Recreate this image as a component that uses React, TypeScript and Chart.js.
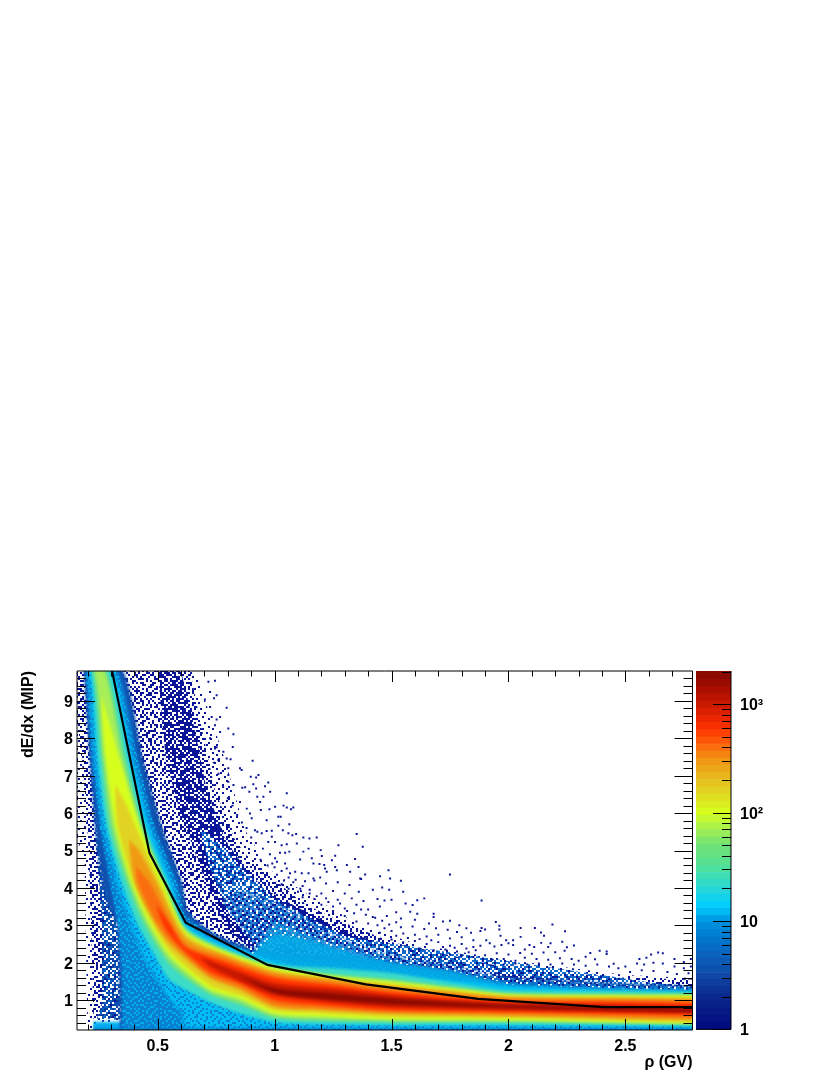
import React, { useEffect, useRef } from "react";
import { Chart, registerables } from "chart.js";
Chart.register(...registerables);

type P = [number, number];
const FONT = '"Liberation Sans", Arial, sans-serif';
const X0 = 0.155, X1 = 2.787, Y0 = 0.2, Y1 = 9.8;

const xMajor = [0.5, 1, 1.5, 2, 2.5];
const xMinor = [0.2, 0.3, 0.4, 0.6, 0.7, 0.8, 0.9, 1.1, 1.2, 1.3, 1.4, 1.6, 1.7, 1.8, 1.9, 2.1, 2.2, 2.3, 2.4, 2.6, 2.7];
const yMajor = [1, 2, 3, 4, 5, 6, 7, 8, 9];
const yMinor = [0.4, 0.6, 0.8, 1.2, 1.4, 1.6, 1.8, 2.2, 2.4, 2.6, 2.8, 3.2, 3.4, 3.6, 3.8, 4.2, 4.4, 4.6, 4.8, 5.2, 5.4, 5.6, 5.8, 6.2, 6.4, 6.6, 6.8, 7.2, 7.4, 7.6, 7.8, 8.2, 8.4, 8.6, 8.8, 9.2, 9.4, 9.6];

const zMajor = [1, 10, 100, 1000];
const zLabels: Record<number, string> = { 1: "1", 10: "10", 100: "10\u00B2", 1000: "10\u00B3" };
const zMinor = [2, 3, 4, 5, 6, 7, 8, 9, 20, 30, 40, 50, 60, 70, 80, 90, 200, 300, 400, 500, 600, 700, 800, 900, 2000];
const zEdges = [1, 1.16, 1.35, 1.57, 1.83, 2.13, 2.48, 2.88, 3.35, 3.9, 4.54, 5.28, 6.15, 7.16, 8.33, 9.7, 11.3, 13.1, 15.3, 17.8, 20.7, 24.1, 28, 32.6, 38, 44.2, 51.4, 59.9, 69.7, 81.1, 94.4, 110, 128, 149, 173, 202, 235, 273, 318, 370, 431, 501, 583, 679, 790, 919, 1070, 1245, 1449, 1687, 2024];
const zStopValues = [1, 2, 3, 5, 7, 10, 13.5, 20, 30, 40, 50, 70, 100, 150, 200, 300, 400, 500, 600, 700, 1000, 1350, 1800, 2024];
const zStopColors: number[][] = [[0, 10, 125], [10, 40, 140], [15, 70, 165], [10, 100, 190], [0, 120, 205], [0, 150, 225], [0, 205, 255], [40, 215, 215], [75, 225, 160], [100, 225, 130], [110, 225, 120], [165, 240, 80], [215, 255, 30], [225, 215, 35], [230, 190, 30], [240, 150, 20], [250, 110, 15], [255, 75, 5], [255, 50, 0], [240, 40, 0], [200, 25, 0], [170, 15, 0], [140, 10, 0], [130, 8, 0]];

// contour edges of the main band, outermost level first
const blueUpper: P[] = [[0.155, 11], [0.352, 9.8], [0.437, 7.42], [0.518, 5.63], [0.604, 4.13], [0.625, 3.4], [0.7, 2.95], [0.8, 2.6], [1, 2.25], [1.25, 2.17], [1.5, 2.01], [1.75, 1.8], [2, 1.59], [2.5, 1.43], [2.787, 1.35]];
const blueLower: P[] = [[0.155, 11], [0.185, 9.8], [0.21, 7.42], [0.232, 5.63], [0.262, 4.13], [0.29, 3.5], [0.33, 3], [0.34, 0.1], [2.787, 0.1]];
const lowLeftLower: P[] = [[0.155, 11], [0.185, 9.8], [0.21, 7.42], [0.232, 5.63], [0.25, 4.13], [0.262, 3], [0.265, 1], [0.24, 0.5], [2.787, 0.1]];
const azureUpper: P[] = [[0.155, 11], [0.33, 9.8], [0.416, 7.42], [0.488, 5.63], [0.583, 4.13], [0.617, 3.27], [0.7, 2.85], [0.8, 2.5], [1, 2.17], [1.25, 2.07], [1.5, 1.94], [1.75, 1.72], [2, 1.51], [2.5, 1.37], [2.787, 1.32]];
const azureLower: P[] = [[0.155, 11], [0.193, 9.8], [0.219, 7.42], [0.253, 5.63], [0.296, 4.13], [0.33, 3], [0.347, 1.8], [0.348, 0.1], [2.787, 0.1]];
const skyUpper: P[] = [[0.155, 11], [0.309, 9.8], [0.394, 7.42], [0.467, 5.63], [0.561, 4.13], [0.617, 3.08], [0.788, 2.5], [1, 2.12], [1.25, 2], [1.5, 1.86], [1.75, 1.67], [2, 1.4], [2.5, 1.32], [2.787, 1.27]];
const skyLower: P[] = [[0.155, 11], [0.202, 9.8], [0.232, 7.42], [0.266, 5.63], [0.326, 4.13], [0.382, 3], [0.446, 2.07], [0.553, 1], [0.6, 0.7], [0.62, 0.1], [2.787, 0.1]];
const tealUpper: P[] = [[0.155, 11], [0.296, 9.8], [0.377, 7.42], [0.45, 5.63], [0.544, 4.13], [0.617, 2.98], [0.788, 2.39], [1, 1.96], [1.25, 1.85], [1.5, 1.72], [1.75, 1.48], [2, 1.27], [2.5, 1.24], [2.787, 1.21]];
const tealLower: P[] = [[0.155, 11], [0.215, 9.8], [0.245, 7.42], [0.283, 5.63], [0.347, 4.13], [0.416, 3], [0.5, 2.07], [0.553, 1.53], [0.724, 0.95], [0.852, 0.65], [1, 0.41], [1.2, 0.36], [1.5, 0.33], [2, 0.33], [2.787, 0.3]];
const greenUpper: P[] = [[0.155, 11], [0.28, 9.8], [0.364, 7.42], [0.437, 5.63], [0.535, 4.13], [0.617, 2.92], [0.788, 2.34], [1, 1.91], [1.25, 1.69], [1.5, 1.56], [1.75, 1.37], [2, 1.19], [2.5, 1.16], [2.787, 1.16]];
const greenLower: P[] = [[0.155, 11], [0.223, 9.8], [0.262, 7.42], [0.296, 5.63], [0.369, 4.13], [0.433, 3.14], [0.553, 1.93], [0.724, 1.15], [0.852, 0.87], [1, 0.52], [1.2, 0.44], [1.5, 0.41], [2, 0.41], [2.787, 0.36]];
const springUpper: P[] = [[0.155, 11], [0.272, 9.8], [0.35, 7.42], [0.43, 5.63], [0.529, 4.13], [0.617, 2.88], [0.788, 2.31], [1, 1.88], [1.25, 1.66], [1.5, 1.52], [1.75, 1.33], [2, 1.16], [2.5, 1.13], [2.787, 1.13]];
const springLower: P[] = [[0.155, 11], [0.232, 9.8], [0.27, 7.42], [0.309, 5.63], [0.38, 4.13], [0.446, 3.14], [0.553, 2.07], [0.724, 1.22], [0.852, 0.96], [1, 0.58], [1.2, 0.5], [1.5, 0.45], [2, 0.44], [2.787, 0.37]];
const limeUpper: P[] = [[0.257, 9.2], [0.339, 7.42], [0.424, 5.63], [0.523, 4.13], [0.617, 2.84], [0.788, 2.28], [1, 1.86], [1.25, 1.62], [1.5, 1.48], [1.75, 1.3], [2, 1.13], [2.5, 1.11], [2.787, 1.11]];
const limeLower: P[] = [[0.257, 9.2], [0.279, 7.42], [0.322, 5.63], [0.39, 4.13], [0.459, 3.14], [0.553, 2.2], [0.724, 1.3], [0.852, 1.05], [1, 0.65], [1.2, 0.57], [1.5, 0.49], [2, 0.47], [2.787, 0.39]];
const yellowUpper: P[] = [[0.315, 6.8], [0.36, 6.3], [0.407, 5.63], [0.51, 4.13], [0.617, 2.79], [0.788, 2.24], [1, 1.8], [1.25, 1.58], [1.5, 1.43], [1.75, 1.27], [2, 1.11], [2.5, 1.08], [2.787, 1.08]];
const yellowLower: P[] = [[0.315, 6.8], [0.33, 5.63], [0.399, 4.13], [0.471, 3.14], [0.553, 2.3], [0.724, 1.4], [0.852, 1.13], [1, 0.73], [1.2, 0.65], [1.5, 0.55], [2, 0.52], [2.787, 0.41]];
const amberUpper: P[] = [[0.375, 5.3], [0.42, 5], [0.497, 4.13], [0.617, 2.68], [0.788, 2.2], [1, 1.75], [1.25, 1.55], [1.5, 1.37], [1.75, 1.22], [2, 1.08], [2.5, 1.05], [2.787, 1.03]];
const amberLower: P[] = [[0.375, 5.3], [0.403, 4.13], [0.48, 3.14], [0.553, 2.47], [0.724, 1.59], [0.852, 1.27], [1, 0.81], [1.2, 0.73], [1.5, 0.63], [2, 0.57], [2.787, 0.47]];
const orangeUpper: P[] = [[0.405, 4.6], [0.467, 4.13], [0.617, 2.52], [0.788, 2.12], [1, 1.67], [1.25, 1.48], [1.5, 1.29], [1.75, 1.15], [2, 1.03], [2.5, 1], [2.787, 0.97]];
const orangeLower: P[] = [[0.405, 4.6], [0.416, 4.13], [0.49, 3.14], [0.553, 2.6], [0.724, 1.65], [0.852, 1.35], [1, 0.89], [1.2, 0.79], [1.5, 0.68], [2, 0.63], [2.787, 0.52]];
const redUpper: P[] = [[0.49, 3.6], [0.55, 3.05], [0.617, 2.42], [0.788, 2.02], [1, 1.59], [1.25, 1.4], [1.5, 1.21], [1.75, 1.08], [2, 0.97], [2.5, 0.95], [2.787, 0.92]];
const redLower: P[] = [[0.49, 3.6], [0.53, 2.95], [0.6, 2.4], [0.724, 1.75], [0.852, 1.45], [1, 1], [1.2, 0.87], [1.5, 0.73], [2, 0.68], [2.787, 0.6]];
const crimsonUpper: P[] = [[0.68, 2.15], [0.788, 1.9], [1, 1.45], [1.25, 1.3], [1.5, 1.13], [1.75, 1], [2, 0.92], [2.5, 0.87], [2.787, 0.84]];
const crimsonLower: P[] = [[0.68, 2.15], [0.724, 1.9], [0.852, 1.5], [1, 1.13], [1.2, 0.97], [1.5, 0.81], [2, 0.73], [2.787, 0.65]];
const maroonUpper: P[] = [[0.85, 1.66], [1, 1.32], [1.25, 1.18], [1.5, 1.05], [1.75, 0.95], [2, 0.87], [2.5, 0.79], [2.787, 0.76]];
const maroonLower: P[] = [[0.85, 1.66], [1, 1.19], [1.2, 1.03], [1.5, 0.89], [2, 0.79], [2.787, 0.68]];

// strip along the lower edge of the plot
const stripTop: P[] = [[0.222, 0.42], [2.787, 0.42]];
const stripBottom: P[] = [[0.222, 0.1], [2.787, 0.1]];
const rimTop: P[] = [[0.222, 0.26], [2.787, 0.26]];

// speckled and mid-density regions above and left of the main band
const sparseUpper: P[] = [[0.155, 11], [0.66, 9.8], [0.788, 7.42], [0.873, 5.55], [0.98, 4.48], [1.15, 3.8], [1.365, 3], [1.62, 2.47], [2, 2.07], [2.5, 1.67], [2.787, 1.59]];
const sparseLower: P[] = [[0.155, 5.3], [0.187, 4.8], [0.2, 0.1], [2.787, 0.1]];
const mediumUpper: P[] = [[0.155, 11], [0.639, 9.8], [0.681, 8.49], [0.745, 6.62], [0.831, 5.28], [0.895, 4.74], [1, 4.21], [1.12, 3.6], [1.267, 3.15], [1.5, 2.55], [1.75, 2.2], [2, 1.85], [2.5, 1.6], [2.787, 1.55]];
const leftLower: P[] = [[0.155, 8.6], [0.19, 6.5], [0.205, 5], [0.215, 3], [0.225, 0.5], [2.787, 0.2]];
const protonUpper: P[] = [[0.155, 11], [0.6, 9.8], [0.65, 8.49], [0.71, 6.62], [0.79, 5.28], [0.85, 4.74], [0.95, 4], [1.12, 3.4], [1.267, 2.95], [1.5, 2.38], [1.75, 2.05], [2, 1.72], [2.5, 1.45], [2.787, 1.4]];
const protonLower: P[] = [[0.155, 11], [0.5, 9.8], [0.535, 7.42], [0.595, 6.05], [0.702, 4.21], [0.788, 3], [0.938, 2.07], [1.109, 1.67], [2.787, 1]];
const coreUpper: P[] = [[0.62, 7], [0.72, 6.3], [0.8, 5.35], [0.88, 4.6], [1, 3.9], [1.12, 3.3], [1.267, 2.85], [1.5, 2.3], [1.75, 2], [2, 1.68], [2.5, 1.42], [2.787, 1.38]];
const coreLower: P[] = [[0.62, 7], [0.66, 5.63], [0.73, 4.21], [0.8, 3.2], [0.94, 2.2], [1.11, 1.8], [2.787, 1.1]];
const mottleUpper: P[] = [[0.68, 5.6], [0.78, 5.1], [0.88, 4.4], [1, 3.7], [1.3, 2.7], [2.787, 1.3]];
const mottleLower: P[] = [[0.68, 5.6], [0.72, 4.6], [0.8, 3.4], [0.92, 2.5], [2.787, 1.1]];
const midUpper: P[] = [[0.78, 3.6], [0.85, 3.9], [1, 3.6], [1.25, 2.75], [1.5, 2.2], [1.75, 1.93], [2, 1.6], [2.5, 1.4], [2.787, 1.35]];
const midLower: P[] = [[0.78, 3.6], [0.94, 2.2], [1.11, 1.85], [2.787, 1.1]];
const paleUpper: P[] = [[0.9, 2.2], [1, 2.75], [1.15, 2.6], [1.25, 2.4], [1.5, 2], [1.75, 1.78], [2, 1.42], [2.5, 1.3], [2.787, 1.27]];
const paleLower: P[] = [[0.9, 2.2], [1, 2], [1.11, 1.8], [2.787, 1.1]];
const fleckLower: P[] = [[0.78, 3.6], [0.9, 2.2], [1, 2.75], [1.15, 2.6], [1.25, 2.4], [1.5, 2], [1.75, 1.78], [2, 1.42], [2.5, 1.3], [2.787, 1.27]];
const paleFleckUpper: P[] = [[0.9, 2.2], [1, 3.1], [1.25, 2.5], [1.5, 2.05], [1.75, 1.8], [2, 1.45], [2.5, 1.3], [2.787, 1.27]];

// isolated single-count bins
const dotsUpperLeft: P[] = [[0.717, 9.51], [0.745, 9.54], [0.724, 9.24], [0.752, 9.15], [0.741, 9.07], [0.702, 9.04], [0.724, 8.84], [0.795, 8.82], [0.767, 8.57], [0.752, 8.5], [0.731, 8.57], [0.745, 8.35], [0.802, 8.26], [0.824, 8.11], [0.767, 8.17], [0.724, 8], [0.752, 7.76], [0.821, 7.77], [0.781, 7.64], [0.745, 7.73], [0.795, 7.46], [0.812, 7.44], [0.906, 7.4], [0.759, 7.42], [0.852, 7.2], [0.859, 7.15], [0.802, 7.2], [0.802, 7.02], [0.898, 6.97], [0.931, 7.02], [0.921, 6.95], [0.802, 6.84], [0.973, 6.82], [0.909, 6.77], [0.959, 6.72], [0.824, 6.75], [0.862, 6.68], [0.874, 6.69], [0.921, 6.66], [0.981, 6.57], [1.052, 6.53], [0.892, 6.57], [0.926, 6.44], [0.952, 6.44], [0.938, 6.3], [1.002, 6.17], [1.038, 6.2], [1.052, 6.15], [1.08, 6.15], [1.07, 6.1], [0.978, 6.1], [0.941, 6.08], [1.016, 5.9], [1.026, 5.9], [0.966, 5.81], [1.016, 5.66], [1.063, 5.7], [0.902, 5.86], [0.881, 6.12], [0.895, 5.99], [0.852, 6.3]];
const dotsMiddle: P[] = [[0.916, 5.54], [0.926, 5.5], [0.945, 5.46], [0.966, 5.52], [0.988, 5.53], [1.035, 5.54], [1.059, 5.46], [1.076, 5.41], [1.092, 5.44], [1.123, 5.35], [1.149, 5.32], [1.18, 5.35], [1.351, 5.44], [1.273, 5.14], [1.377, 5.1], [1.095, 5.19], [1.052, 5.17], [1.03, 5.14], [1.002, 5.23], [0.988, 5.37], [0.973, 5.23], [1.145, 5.05], [1.123, 4.97], [1.063, 4.97], [1.045, 4.94], [1.023, 4.94], [1.159, 4.79], [1.109, 4.76], [1.197, 5.01], [1.202, 4.85], [1.259, 4.86], [1.245, 4.74], [1.344, 4.77], [1.166, 4.65], [1.192, 4.64], [1.212, 4.61], [1.116, 4.39], [1.088, 4.43], [1.045, 4.65], [1.052, 4.52], [1.066, 4.39], [1.002, 4.79], [1.216, 4.52], [1.259, 4.56], [1.266, 4.47], [1.309, 4.61], [1.359, 4.56], [1.323, 4.43], [1.223, 4.43], [1.387, 4.36], [1.487, 4.47], [1.451, 4.31], [1.494, 4.25], [1.366, 4.25], [1.195, 4.28], [1.166, 4.25], [1.145, 4.39], [1.75, 4.36], [1.54, 4.19], [1.46, 4.01]];
const dotsCentre: P[] = [[1.03, 4.1], [1.08, 4.15], [1.12, 4.05], [1.17, 4.2], [1.22, 4.12], [1.27, 4.15], [1.32, 4.08], [1.37, 4.24], [1.06, 3.98], [1.1, 3.9], [1.15, 3.95], [1.2, 3.85], [1.25, 3.92], [1.3, 3.85], [1.36, 3.9], [1.42, 3.95], [1.49, 3.95], [1.55, 3.9], [1.12, 3.75], [1.17, 3.7], [1.22, 3.72], [1.27, 3.68], [1.33, 3.72], [1.38, 3.65], [1.44, 3.7], [1.47, 3.66], [1.5, 3.68], [1.56, 3.58], [1.59, 3.54], [1.61, 3.67], [1.64, 3.72], [1.2, 3.55], [1.25, 3.5], [1.3, 3.45], [1.35, 3.55], [1.4, 3.42], [1.45, 3.5], [1.52, 3.35], [1.58, 3.36], [1.61, 3.31], [1.68, 3.31], [1.68, 3.22], [1.25, 3.3], [1.3, 3.25], [1.34, 3.32], [1.39, 3.28], [1.43, 3.2], [1.48, 3.25], [1.54, 3.18], [1.6, 3.15], [1.66, 3.05], [1.72, 3.1], [1.75, 3.12], [1.79, 3], [1.35, 3.1], [1.4, 3.05], [1.44, 3], [1.49, 3.02], [1.54, 2.95], [1.59, 2.97], [1.64, 2.9], [1.69, 2.92], [1.74, 2.88], [1.78, 2.82], [1.82, 2.92], [1.84, 2.8], [1.88, 2.85], [1.45, 2.8], [1.5, 2.85], [1.55, 2.78], [1.6, 2.75], [1.65, 2.7], [1.7, 2.75], [1.75, 2.65], [1.8, 2.68], [1.85, 2.6], [1.5, 2.62], [1.55, 2.55], [1.6, 2.58], [1.65, 2.5], [1.7, 2.55], [1.75, 2.45], [1.8, 2.5], [1.85, 2.42], [1.88, 2.45], [1.62, 2.38], [1.68, 2.33], [1.73, 2.35], [1.78, 2.3], [1.83, 2.28], [1.86, 2.33], [1.75, 2.22], [1.8, 2.18], [1.85, 2.15]];
const dotsDense: P[] = [[1.0, 4.55], [1.03, 4.45], [1.01, 4.35], [1.06, 4.28], [1.09, 4.22], [1.13, 4.18], [1.04, 4.2], [1.07, 4.08], [1.11, 3.98], [1.15, 3.85], [1.18, 3.78], [1.23, 3.62], [1.28, 3.58], [1.31, 3.38], [1.37, 3.42], [1.42, 3.22], [1.46, 3.12], [1.52, 3.08], [1.47, 2.92], [1.52, 2.72], [1.57, 2.66], [1.62, 2.63], [1.67, 2.6], [1.72, 2.42], [1.77, 2.4], [1.82, 2.38], [0.92, 5.2], [0.95, 5.05], [0.98, 4.9], [0.9, 5.35], [0.88, 5.6], [0.86, 5.75], [0.84, 5.95], [0.82, 6.2], [0.8, 6.4], [0.78, 6.7], [0.76, 7.05], [0.74, 7.35], [0.94, 4.75], [0.97, 4.6], [0.99, 4.65], [1.01, 4.7]];
const dotsRight: P[] = [[1.885, 3.66], [1.946, 3.09], [1.961, 2.99], [1.961, 2.89], [1.9, 2.89], [1.885, 2.93], [2.052, 2.93], [2.113, 2.93], [2.188, 3.02], [2.139, 2.81], [2.152, 2.72], [2.242, 2.84], [1.966, 2.72], [2.052, 2.69], [1.99, 2.6], [2.02, 2.6], [2, 2.52], [2.02, 2.47], [1.905, 2.6], [1.92, 2.52], [1.94, 2.43], [1.97, 2.47], [2.09, 2.47], [2.11, 2.42], [2.07, 2.35], [2.14, 2.53], [2.18, 2.52], [2.17, 2.42], [2.23, 2.56], [2.25, 2.41], [2.28, 2.46], [2.24, 2.32], [2.2, 2.28], [2.15, 2.27], [2.1, 2.24], [2.05, 2.26], [2, 2.22], [1.95, 2.25], [1.9, 2.2], [2.35, 2.26], [2.39, 2.32], [2.42, 2.3], [2.42, 2.23], [2.33, 2.16], [2.37, 2.09], [2.3, 2.05], [2.27, 2.1], [2.22, 2.12], [2.17, 2.08], [2.12, 2.1], [2.07, 2.13], [2.03, 2.05], [1.98, 2.1], [1.93, 2.08], [1.89, 2.05], [2.56, 2.1], [2.59, 2.13], [2.61, 2.22], [2.64, 2.27], [2.66, 2.25], [2.55, 1.98], [2.58, 1.95], [2.62, 2], [2.66, 1.98], [2.71, 2.1], [2.75, 2.02], [2.78, 2.1], [2.71, 1.9], [2.75, 1.85], [2.78, 1.9], [2.45, 1.97], [2.5, 1.9], [2.47, 1.85], [2.43, 1.9], [2.38, 1.95], [2.33, 1.92], [2.28, 1.95], [2.23, 1.98], [2.18, 1.95], [2.13, 1.98], [2.08, 1.95], [2.03, 1.98], [1.98, 1.95], [2.52, 1.75], [2.57, 1.8], [2.62, 1.78], [2.68, 1.75], [2.72, 1.7], [2.77, 1.72]];

// the black curve
const curveX = [0.305, 0.465, 0.62, 0.97, 1.39, 1.87, 2.41, 2.787];
const curveY = [9.8, 4.93, 3.07, 1.94, 1.42, 1.03, 0.81, 0.81];

// fixed hand-written stipple tiles for the fill style of the speckled regions
const tileDense = ["10110010110100110", "01001101001011001", "11010010110010110", "00101100101101001", "10010111010010011", "01101000101100101", "11000110010011010", "00110101101001100", "10101001010110011", "01010110100101101", "10011001011010010", "01100110100101001", "11010001001011110", "00101110110100101", "10100101001001011", "01011010010110100", "10010011101000110"];
const tileMedium = ["10001001000101000110010", "00100010010000100001001", "01000110000101001000100", "10010000100100010010000", "00001010001000100100011", "01100001000010000101000", "10000100101000010000101", "00101000010010100010000", "01000010100000001001010", "00010100001011000100001", "10100001000000100010100", "00001001010010010000010", "01010010000100001010001", "00100000110001000001100", "10001100000100100100000", "00010001001000010010011", "01000100000011000000100", "10100000110000101001000", "00001010000101000100010", "01100000100010010000101", "00010011000000100110000", "10000100010100000001010", "00101000100001011000001"];
const tileSparse = ["1000000100000010000", "0000100000001000001", "0010000001000000100", "0000001000010000000", "0100000000000100010", "0000010010000000100", "1000000000100001000", "0001000000000100000", "0000000100100000010", "0100100000000010000", "0000000001000000001", "0010000010000100000", "0000010000001000100", "1000000000100000000", "0000100100000010001", "0100000000010000000", "0000001000000100100", "0001000001000000000", "1000000000010010000"];

function colorAt(v: number): string {
  let i = 0;
  while (i < zStopValues.length - 2 && v > zStopValues[i + 1]) i++;
  const a = Math.log(zStopValues[i]), b = Math.log(zStopValues[i + 1]);
  const t = Math.min(1, Math.max(0, (Math.log(v) - a) / (b - a)));
  const c = zStopColors[i].map((s, k) => Math.round(s + (zStopColors[i + 1][k] - s) * t));
  return `rgb(${c[0]},${c[1]},${c[2]})`;
}

function makePattern(rows: string[], color: string, cell = 2): CanvasPattern {
  const c = document.createElement("canvas");
  c.width = rows[0].length * cell;
  c.height = rows.length * cell;
  const g = c.getContext("2d")!;
  g.fillStyle = color;
  rows.forEach((r, j) => [...r].forEach((v, i) => { if (v === "1") g.fillRect(i * cell, j * cell, cell, cell); }));
  return g.createPattern(c, "repeat")!;
}

const xy = (p: P[]) => p.map(([x, y]) => ({ x, y }));

function band(upper: P[], lower: P[], fillStyle: any, blur = false, tensionUp = 0, tensionLow = 0): any[] {
  const base = { showLine: true, borderWidth: 0, pointRadius: 0, blur };
  return [
    { ...base, data: xy(upper), fill: "+1", backgroundColor: fillStyle, tension: tensionUp },
    { ...base, data: xy(lower), fill: false, tension: tensionLow },
  ];
}

function tickFrame(chart: any) {
  const { ctx, chartArea: a, scales } = chart;
  const x = scales.x, y = scales.y;
  ctx.save();
  ctx.strokeStyle = "#000";
  ctx.lineWidth = 1;
  ctx.beginPath();
  const hTick = (v: number, len: number) => {
    const p = Math.round(x.getPixelForValue(v)) + 0.5;
    ctx.moveTo(p, a.top); ctx.lineTo(p, a.top + len);
    ctx.moveTo(p, a.bottom); ctx.lineTo(p, a.bottom - len);
  };
  const vTick = (v: number, len: number) => {
    const p = Math.round(y.getPixelForValue(v)) + 0.5;
    ctx.moveTo(a.left, p); ctx.lineTo(a.left + len, p);
    ctx.moveTo(a.right, p); ctx.lineTo(a.right - len, p);
  };
  xMajor.forEach((v) => hTick(v, 11));
  xMinor.forEach((v) => hTick(v, 5.5));
  yMajor.forEach((v) => vTick(v, 18));
  yMinor.forEach((v) => vTick(v, 9));
  ctx.rect(a.left, a.top, a.right - a.left, a.bottom - a.top);
  ctx.stroke();
  ctx.restore();
}

function barTicks(chart: any) {
  const { ctx, chartArea: a, scales } = chart;
  const y = scales.y;
  ctx.save();
  ctx.strokeStyle = "#000";
  ctx.lineWidth = 1;
  ctx.beginPath();
  const t = (v: number, len: number) => {
    const p = Math.round(y.getPixelForValue(v)) + 0.5;
    ctx.moveTo(a.right, p); ctx.lineTo(a.right - len, p);
  };
  zMajor.forEach((v) => t(v, 18));
  zMinor.filter((v) => v <= 2024).forEach((v) => t(v, 9));
  ctx.moveTo(a.right, a.top); ctx.lineTo(a.right, a.bottom); ctx.lineTo(a.left, a.bottom);
  ctx.stroke();
  ctx.restore();
}

export default function App() {
  const mainRef = useRef<HTMLCanvasElement>(null);
  const barRef = useRef<HTMLCanvasElement>(null);

  useEffect(() => {
    const navy = "#0a1496";
    const T = 0.25;
    const layers: any[] = [
      ...band(sparseUpper, sparseLower, makePattern(tileSparse, navy)),
      ...band(mediumUpper, leftLower, makePattern(tileMedium, navy)),
      ...band(protonUpper, protonLower, makePattern(tileDense, navy)),
      ...band(coreUpper, coreLower, makePattern(tileMedium, "#0a1a9c")),
      ...band(coreUpper, coreLower, makePattern(tileSparse, "#0a1a9c")),
      ...band(mottleUpper, mottleLower, makePattern(tileDense, "#1068c8")),
      ...band(stripTop, stripBottom, "#00b0f0", true),
      ...band(blueUpper, lowLeftLower, makePattern(tileDense, "#0c3fa5")),
      ...band(blueUpper, lowLeftLower, makePattern(tileMedium, "#0a64c0")),
      ...band(blueUpper, blueLower, "#0f50ae", true, T),
      ...band(azureUpper, azureLower, "#0a80d2", true, T),
      ...band(azureUpper, azureLower, makePattern(tileMedium, "#00aee8")),
      ...band(skyUpper, skyLower, "#00bdf4", true, T),
      ...band(tealLower, skyLower, makePattern(tileMedium, "#0a84d4")),
      ...band(midUpper, midLower, "rgba(16,112,205,0.8)", true, T),
      ...band(midUpper, fleckLower, makePattern(tileMedium, navy)),
      ...band(midUpper, fleckLower, makePattern(tileSparse, "#ffffff")),
      ...band(paleUpper, paleLower, "rgba(0,190,240,0.7)", true, T),
      ...band(paleFleckUpper, paleLower, makePattern(tileMedium, "#00a4e4")),
      ...band(tealUpper, tealLower, "#3cdcc8", true, T, T),
      ...band(greenUpper, greenLower, "#6ee182", true, T, T),
      ...band(springUpper, springLower, "#a8ee58", true, T, T),
      ...band(limeUpper, limeLower, "#d7ff1e", true, T, T),
      ...band(yellowUpper, yellowLower, "#e1d223", true, T, T),
      ...band(amberUpper, amberLower, "#f09a14", true, T, T),
      ...band(orangeUpper, orangeLower, "#fa6e0f", true, T, T),
      ...band(redUpper, redLower, "#ff3200", true, T, T),
      ...band(crimsonUpper, crimsonLower, "#c81900", true, T, T),
      ...band(maroonUpper, maroonLower, "#8c0a00", true, T, T),
      ...band(rimTop, stripBottom, "rgba(0,120,210,0.75)", true),
    ];
    [dotsUpperLeft, dotsMiddle, dotsCentre, dotsDense, dotsRight].forEach((d) =>
      layers.push({ data: xy(d), showLine: false, pointStyle: "rect", pointRadius: 1.4, pointBorderWidth: 0, pointBackgroundColor: navy })
    );
    layers.push({
      data: curveX.map((x, i) => ({ x, y: curveY[i] })),
      showLine: true, borderColor: "#000", borderWidth: 2.2, pointRadius: 0, fill: false, tension: 0,
    });
    const n = layers.length;
    layers.forEach((d, i) => { d.order = n - i; });

    const BLUR = "blur(1.8px)";
    const blurPlugin = {
      id: "bandBlur",
      beforeDatasetsDraw(chart: any) { chart.ctx.filter = layers[0].blur ? BLUR : "none"; },
      afterDatasetDraw(chart: any, args: any) {
        const next = layers[args.index + 1];
        chart.ctx.filter = next && next.blur ? BLUR : "none";
      },
      afterDatasetsDraw(chart: any) { chart.ctx.filter = "none"; tickFrame(chart); },
    };

    const tickFont = { family: FONT, size: 16, weight: "bold" as const };
    const noGrid = { display: false, drawTicks: false };
    const main = new Chart(mainRef.current!, {
      type: "scatter",
      data: { datasets: layers },
      plugins: [blurPlugin],
      options: {
        animation: false, responsive: false,
        layout: { padding: { top: 671, right: 137.5, left: 0, bottom: 0 } },
        plugins: { legend: { display: false }, tooltip: { enabled: false } },
        scales: {
          x: {
            type: "linear", min: X0, max: X1,
            grid: noGrid, border: { display: false },
            afterBuildTicks: (s: any) => { s.ticks = xMajor.map((value) => ({ value })); },
            afterFit: (s: any) => { s.height = 45; },
            ticks: { color: "#000", font: tickFont, padding: 7, maxRotation: 0, autoSkip: false, callback: (v: any) => String(v) },
            title: { display: true, text: "\u03C1 (GV)", align: "end", color: "#000", font: tickFont, padding: { top: 0, bottom: 3 } },
          },
          y: {
            type: "linear", min: Y0, max: Y1,
            grid: noGrid, border: { display: false },
            afterBuildTicks: (s: any) => { s.ticks = yMajor.map((value) => ({ value })); },
            afterFit: (s: any) => { s.width = 77; },
            ticks: { color: "#000", font: tickFont, padding: 4, labelOffset: 1.5, autoSkip: false, callback: (v: any) => String(v) },
            title: { display: true, text: "dE/dx (MIP)", align: "end", color: "#000", font: tickFont, padding: { top: 19, bottom: 0 } },
          },
        },
      } as any,
    });

    const bars = new Chart(barRef.current!, {
      type: "bar",
      data: {
        labels: ["z"],
        datasets: zEdges.slice(0, -1).map((lo, i) => ({
          data: [[lo, zEdges[i + 1]]],
          backgroundColor: colorAt(Math.sqrt(lo * zEdges[i + 1])),
          borderWidth: 0, borderSkipped: false,
        })),
      } as any,
      plugins: [{ id: "barTicks", afterDatasetsDraw: barTicks }],
      options: {
        animation: false, responsive: false,
        layout: { padding: { top: 671, left: 696, right: 0, bottom: 0 } },
        plugins: { legend: { display: false }, tooltip: { enabled: false } },
        datasets: { bar: { grouped: false, barPercentage: 1, categoryPercentage: 1 } },
        scales: {
          x: { display: false },
          y: {
            type: "logarithmic", position: "right", min: 1, max: 2024,
            grid: noGrid, border: { display: false },
            afterBuildTicks: (s: any) => { s.ticks = zMajor.map((value) => ({ value })); },
            afterFit: (s: any) => { s.width = 99; },
            ticks: { color: "#000", font: tickFont, padding: 9, labelOffset: 1.5, autoSkip: false, callback: (v: any) => zLabels[v as number] ?? "" },
          },
        },
      } as any,
    });
    return () => { main.destroy(); bars.destroy(); };
  }, []);

  const style: React.CSSProperties = { position: "absolute", left: 0, top: 0 };
  return (
    <div style={{ position: "absolute", left: 0, top: 0, width: 830, height: 1075, background: "#fff" }}>
      <canvas ref={mainRef} width={830} height={1075} style={style} />
      <canvas ref={barRef} width={830} height={1048} style={style} />
    </div>
  );
}
